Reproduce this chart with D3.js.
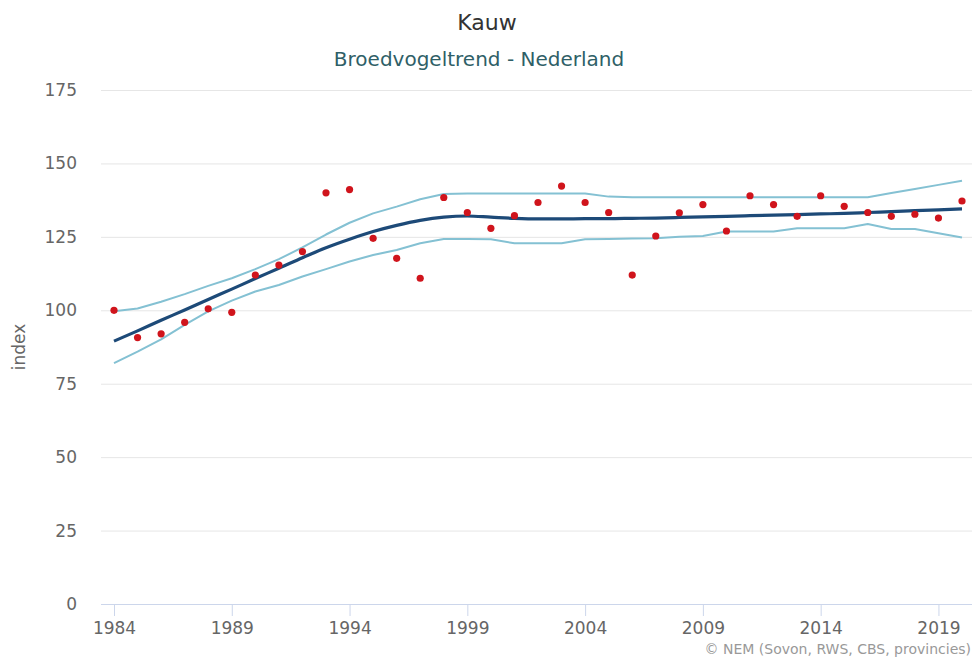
<!DOCTYPE html>
<html>
<head>
<meta charset="utf-8">
<script src="https://cdn.jsdelivr.net/npm/d3@7"></script>
<style>
  body { margin: 0; background: #fff; }
  text { font-family: "DejaVu Sans", sans-serif; }
</style>
</head>
<body>
<div id="root"></div>
<script>
const years = d3.range(1984, 2021);

// yearly index (red dots)
const indexValues = [
  100, 90.7, 92, 95.9, 100.5, 99.3, 112, 115.4, 120, 140, 141.1, 124.5,
  117.7, 110.9, 138.4, 133.3, 127.9, 132.2, 136.7, 142.3, 136.7, 133.3, 112,
  125.3, 133.2, 136, 127, 139, 136, 132, 139, 135.4, 133.3, 132, 132.7, 131.4, 137.2
];

// smoothed trend
const trendValues = [
  89.5, 93.0, 96.6, 100.1, 103.7, 107.2, 110.8, 114.3, 117.9, 121.3, 124.2, 126.8,
  128.9, 130.6, 131.7, 132.1, 131.7, 131.3, 131.1, 131.1, 131.2, 131.2, 131.3,
  131.4, 131.6, 131.8, 132, 132.2, 132.4, 132.6, 132.8, 133, 133.3, 133.6, 133.9, 134.2, 134.5
];

// confidence band
const upperValues = [
  99.7, 100.6, 102.9, 105.5, 108.3, 110.9, 114, 117.4, 121.4, 125.8, 129.8, 133,
  135.3, 137.8, 139.6, 139.8, 139.8, 139.8, 139.8, 139.8, 139.8, 138.7, 138.5,
  138.5, 138.5, 138.5, 138.5, 138.5, 138.5, 138.5, 138.5, 138.5, 138.5, 139.9, 141.3, 142.7, 144.1
];
const lowerValues = [
  82, 85.9, 90.1, 95, 99.6, 103.3, 106.4, 108.6, 111.5, 114, 116.6, 118.8,
  120.5, 122.8, 124.3, 124.3, 124.2, 122.8, 122.8, 122.8, 124.2, 124.3, 124.4,
  124.5, 125, 125.3, 126.8, 126.8, 126.8, 127.9, 127.9, 127.9, 129.4, 127.7, 127.7, 126.2, 124.8
];

const yTicks = [0, 25, 50, 75, 100, 125, 150, 175];
const xTicks = [1984, 1989, 1994, 1999, 2004, 2009, 2014, 2019];

const width = 974;
const height = 663;
const margin = { top: 90, right: 2, bottom: 59, left: 101 };

const svg = d3.select("#root")
  .append("svg")
  .attr("width", width)
  .attr("height", height);

const xScale = d3.scaleLinear().domain([1984, 2020]).range([114, 962]);
const yScale = d3.scaleLinear().domain([0, 175]).range([height - margin.bottom, margin.top]);

// gridlines
svg.append("g")
  .selectAll("line")
  .data(yTicks.filter((d) => d > 0))
  .join("line")
  .attr("x1", margin.left)
  .attr("x2", width - margin.right)
  .attr("y1", (d) => yScale(d) + 0.5)
  .attr("y2", (d) => yScale(d) + 0.5)
  .attr("stroke", "#e6e6e6")
  .attr("stroke-width", 1);

// left axis (labels only)
const leftAxis = d3.axisLeft(yScale).tickValues(yTicks).tickSize(0).tickPadding(24);
svg.append("g")
  .attr("transform", `translate(${margin.left}, 0)`)
  .call(leftAxis)
  .call((g) => g.select(".domain").remove())
  .call((g) => g.selectAll("text")
    .attr("fill", "#666")
    .style("font-size", "17px")
    .style("font-family", "DejaVu Sans"));

// bottom axis
const bottomAxis = d3.axisBottom(xScale)
  .tickValues(xTicks)
  .tickFormat(d3.format("d"))
  .tickSize(12)
  .tickPadding(6)
  .tickSizeOuter(0);
svg.append("g")
  .attr("transform", `translate(0, ${yScale(0)})`)
  .call(bottomAxis)
  .call((g) => g.select(".domain")
    .attr("d", `M${margin.left},0.5H${width - margin.right}`)
    .attr("stroke", "#ccd6eb"))
  .call((g) => g.selectAll(".tick line").attr("stroke", "#ccd6eb"))
  .call((g) => g.selectAll("text")
    .attr("fill", "#666")
    .style("font-size", "17px")
    .style("font-family", "DejaVu Sans"));

// band lines
const lineOf = (values) => d3.line()
  .x((d, i) => xScale(years[i]))
  .y((d) => yScale(d));

[upperValues, lowerValues].forEach((vals) => {
  svg.append("path")
    .datum(vals)
    .attr("d", lineOf(vals))
    .attr("fill", "none")
    .attr("stroke", "#84c1d3")
    .attr("stroke-width", 2)
    .attr("stroke-linejoin", "round");
});

// trend line
svg.append("path")
  .datum(trendValues)
  .attr("d", lineOf(trendValues).curve(d3.curveMonotoneX))
  .attr("fill", "none")
  .attr("stroke", "#1d4a78")
  .attr("stroke-width", 3.2)
  .attr("stroke-linejoin", "round");

// yearly points
svg.append("g")
  .selectAll("circle")
  .data(indexValues)
  .join("circle")
  .attr("cx", (d, i) => xScale(years[i]))
  .attr("cy", (d) => yScale(d))
  .attr("r", 3.6)
  .attr("fill", "#d0141c");

// titles
svg.append("text")
  .attr("x", 487)
  .attr("y", 30)
  .attr("text-anchor", "middle")
  .attr("fill", "#333")
  .style("font-size", "22px")
  .text("Kauw");

svg.append("text")
  .attr("x", 479)
  .attr("y", 66)
  .attr("text-anchor", "middle")
  .attr("fill", "#2f5f67")
  .style("font-size", "20px")
  .text("Broedvogeltrend - Nederland");

// y axis title
svg.append("text")
  .attr("transform", `translate(25, ${(yScale(0) + yScale(175)) / 2}) rotate(-90)`)
  .attr("text-anchor", "middle")
  .attr("fill", "#666")
  .style("font-size", "17px")
  .text("index");

// credits
svg.append("text")
  .attr("x", 971)
  .attr("y", 654)
  .attr("text-anchor", "end")
  .attr("fill", "#999")
  .style("font-size", "14px")
  .text("© NEM (Sovon, RWS, CBS, provincies)");
</script>
</body>
</html>
